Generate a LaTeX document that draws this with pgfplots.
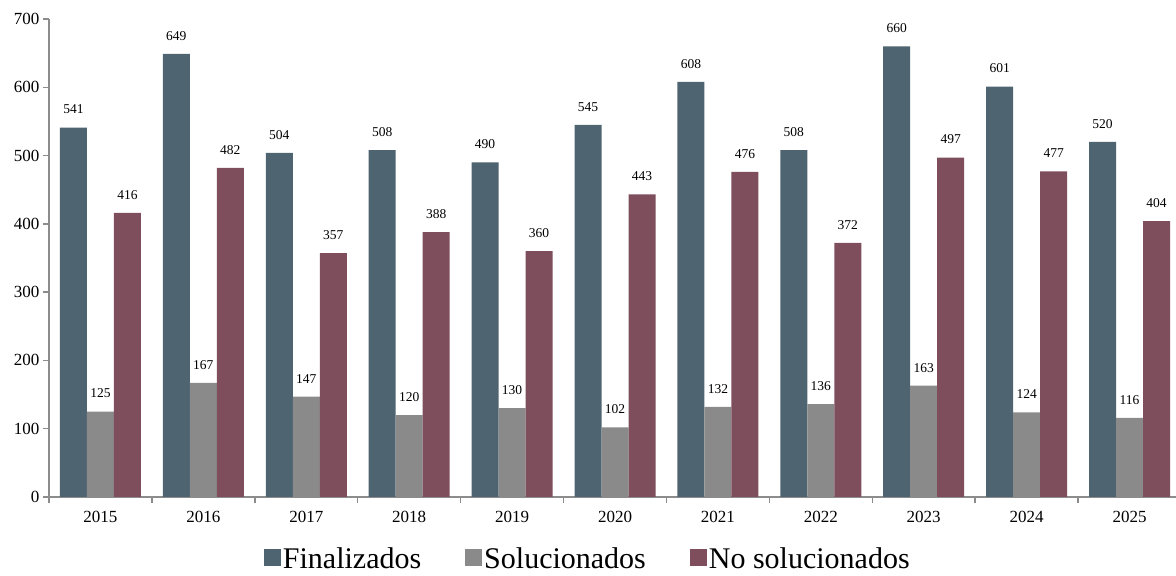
\documentclass[border=0pt]{standalone}
\usepackage{pgfplots}
\pgfplotsset{compat=1.18}
\usepackage{fontspec}
\setmainfont{Liberation Serif}
\definecolor{cfin}{RGB}{78,100,112}
\definecolor{csol}{RGB}{138,138,138}
\definecolor{cno}{RGB}{126,78,92}
\definecolor{caxis}{RGB}{140,140,140}
\begin{document}
\begin{tikzpicture}
\begin{axis}[
 name=ax,
 scale only axis, width=1132pt, height=478pt,
 xmin=-0.5, xmax=10.5, ymin=0, ymax=700,
 ybar=0pt, bar width=27pt,
 axis x line*=bottom, axis y line*=left,
 axis line style={draw=caxis, line width=1.4pt},
 xtick={0,...,10},
 xticklabels={2015,2016,2017,2018,2019,2020,2021,2022,2023,2024,2025},
 minor xtick={-0.5,0.5,1.5,2.5,3.5,4.5,5.5,6.5,7.5,8.5,9.5},
 major x tick style={draw=none},
 minor x tick style={draw=caxis, line width=1.4pt},
 y tick style={draw=caxis, line width=1.4pt},
 tick align=outside, major tick length=6pt, minor tick length=6pt,
 ytick={0,100,...,700},
 /pgf/number format/assume math mode=true,
 ticklabel style={font=\fontsize{17}{18}\selectfont},
 xticklabel style={yshift=-5pt},
 nodes near coords,
 every node near coord/.append style={font=\fontsize{13.5}{14}\selectfont, yshift=10pt},
 legend columns=3,
 legend style={draw=none, at={(0.476,-0.13)}, anchor=center, inner sep=1pt,
   font=\fontsize{30}{31}\selectfont,
   /tikz/every even column/.append style={column sep=42pt}},
 sq/.style={legend image code/.code={\fill[##1] (0pt,-7pt) rectangle (17pt,10pt);}},
]
\addplot[fill=cfin, draw=none, sq] coordinates {(0,541) (1,649) (2,504) (3,508) (4,490) (5,545) (6,608) (7,508) (8,660) (9,601) (10,520)};
\addplot[fill=csol, draw=none, sq] coordinates {(0,125) (1,167) (2,147) (3,120) (4,130) (5,102) (6,132) (7,136) (8,163) (9,124) (10,116)};
\addplot[fill=cno, draw=none, sq] coordinates {(0,416) (1,482) (2,357) (3,388) (4,360) (5,443) (6,476) (7,372) (8,497) (9,477) (10,404)};
\legend{Finalizados,Solucionados,No solucionados}
\end{axis}
\pgfresetboundingbox
\path ([shift={(-49pt,-79pt)}]ax.south west) rectangle ([shift={(1127pt,19pt)}]ax.north west);
\end{tikzpicture}
\end{document}
